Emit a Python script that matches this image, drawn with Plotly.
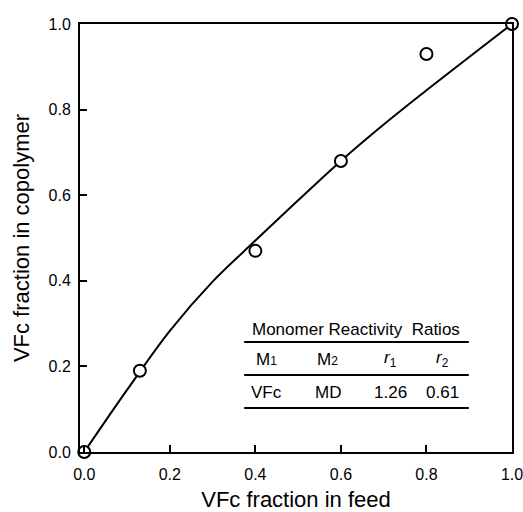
import plotly.graph_objects as go

# Data points (measured)
feed_x = [0.0, 0.13, 0.40, 0.60, 0.80, 1.0]
copoly_y = [0.0, 0.19, 0.47, 0.68, 0.93, 1.0]

# Fitted curve
curve_x = [0.0, 0.1, 0.2, 0.3, 0.4, 0.5, 0.6, 0.7, 0.8, 0.9, 1.0]
curve_y = [0.0, 0.145, 0.283, 0.398, 0.494, 0.588, 0.68, 0.765, 0.845, 0.923, 1.0]

tick_vals = [0.0, 0.2, 0.4, 0.6, 0.8, 1.0]
tick_text = ["0.0", "0.2", "0.4", "0.6", "0.8", "1.0"]

table_title = "Monomer Reactivity  Ratios"
table_header = ["M<span style='font-size:12px'>1</span>", "M<span style='font-size:12px'>2</span>",
                "<i>r</i><sub>1</sub>", "<i>r</i><sub>2</sub>"]
table_row = ["VFc", "MD", "1.26", "0.61"]
table_cols_x = [0.431, 0.574, 0.718, 0.840]

FONT = "Liberation Sans, Arial, sans-serif"

fig = go.Figure()
fig.add_trace(go.Scatter(x=curve_x, y=curve_y, mode="lines",
                         line=dict(color="black", width=2, shape="spline"),
                         showlegend=False, hoverinfo="skip"))
fig.add_trace(go.Scatter(x=feed_x, y=copoly_y, mode="markers",
                         marker=dict(size=12, color="white", line=dict(color="black", width=2)),
                         cliponaxis=False, showlegend=False))

axis_common = dict(showgrid=False, zeroline=False, showline=True, linecolor="black",
                   linewidth=2, mirror=True, ticks="inside", ticklen=7, tickwidth=2,
                   tickcolor="black", tickvals=tick_vals, ticktext=tick_text, automargin=False,
                   ticklabeloverflow="allow",
                   tickfont=dict(family=FONT, size=16, color="black"))

fig.update_layout(
    width=523, height=512,
    margin=dict(l=80, r=11, t=24, b=60),
    paper_bgcolor="white", plot_bgcolor="white",
    font=dict(family=FONT, color="black"),
    xaxis=dict(range=[-0.01, 1.0], ticklabelstandoff=7,
               title=dict(text="VFc fraction in feed", font=dict(family=FONT, size=22), standoff=12),
               **axis_common),
    yaxis=dict(range=[0.0, 1.0], ticklabelstandoff=4,
               title=dict(text="VFc fraction in copolymer", font=dict(family=FONT, size=22), standoff=13),
               **axis_common),
)

ann = dict(xref="paper", yref="paper", showarrow=False, xanchor="center", yanchor="middle",
           font=dict(family=FONT, size=17))

# table in the plot
fig.add_annotation(x=0.639, y=0.287, text=table_title, **ann)
for yv in [0.257, 0.180, 0.103]:
    fig.add_shape(type="line", xref="paper", yref="paper", x0=0.380, x1=0.900, y0=yv, y1=yv,
                  line=dict(color="black", width=2))
for cx, h, r in zip(table_cols_x, table_header, table_row):
    fig.add_annotation(x=cx, y=0.217, text=h, **ann)
    fig.add_annotation(x=cx, y=0.138, text=r, **ann)

fig.write_html("out.html")
